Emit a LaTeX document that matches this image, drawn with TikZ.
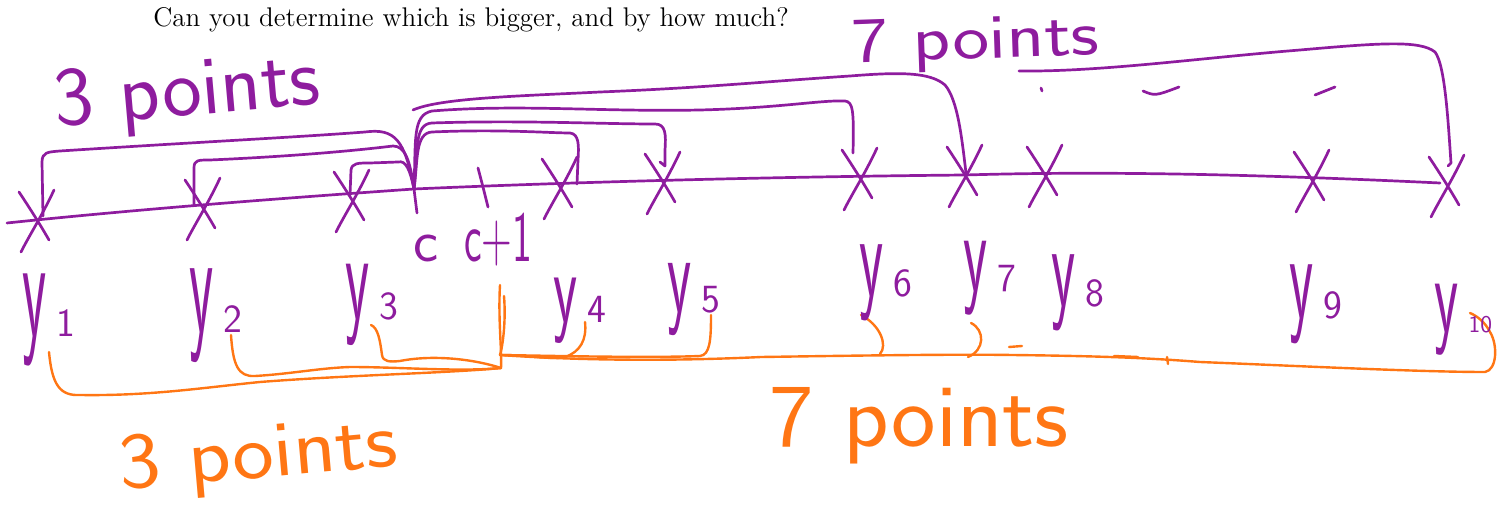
\documentclass[tikz,border=0pt]{standalone}
\usepackage{fontspec}
\definecolor{pur}{RGB}{142,28,158}
\definecolor{org}{RGB}{255,118,20}
\newcommand\ylab[3][20]{\scalebox{0.62}[#2]{\fontsize{45}{45}\selectfont y}\hspace{5pt}{\fontsize{#1}{#1}\selectfont #3}}
\newcommand\handtxt[3]{\scalebox{#2}[1]{\fontsize{#1}{#1}\selectfont #3}}
\tikzset{
  pl/.style={draw=pur, line width=1.35pt, line cap=round, line join=round},
  ol/.style={draw=org, line width=1.2pt, line cap=round, line join=round},
  hand/.style={inner sep=0pt, font=\sffamily},
  ptxt/.style={hand, text=pur},
  otxt/.style={hand, text=org},
  pics/xmark/.style={code={
    \draw[pl] (-18,-28) .. controls (-6,-10) and (4,6) .. (12,20);
    \draw[pl] (17,-30) .. controls (6,-6) and (-8,16) .. (-16,32);}}
}
\begin{document}
\begin{tikzpicture}[x=0.5pt,y=-0.5pt]
\useasboundingbox (0,0) rectangle (1505,523);
% question
\node[anchor=base west, inner sep=0pt, font=\fontsize{13.5}{15}\selectfont] (q) at (153,27)
  {Can you determine which is bigger, and by how much?};
% named points
\coordinate (L) at (7,223);
\coordinate (R) at (1440,183);
\coordinate (cT) at (414,189);
\coordinate (c1T) at (483,187);
\coordinate (x1) at (37,220);
\coordinate (x2) at (203,208);
\coordinate (x3) at (352,200);
\coordinate (x4) at (560,187);
\coordinate (x5) at (663,182);
\coordinate (x6) at (860,178);
\coordinate (x7) at (965,175);
\coordinate (x8) at (1045,175);
\coordinate (x9) at (1312,180);
\coordinate (x10) at (1447,185);
\coordinate (a1) at (43,216);
\coordinate (a2) at (194,205);
\coordinate (a3) at (350,195);
\coordinate (a4) at (577,184);
\coordinate (a5) at (665,166);
\coordinate (a6) at (853,153);
\coordinate (a7) at (966,173);
\coordinate (a10) at (1451,163);
\coordinate (r7s) at (413,110);
\coordinate (u) at (1019,71);
% number line
\draw[pl] (L) .. controls (150,208) and (300,197) .. (cT)
  .. controls (550,183) and (750,177) .. (x7)
  .. controls (1100,171) and (1250,174) .. (R);
% x marks
\foreach \i in {1,...,10} \pic at (x\i) {xmark};
% ticks c, c+1
\draw[pl] (cT) -- ++(3,24);
\draw[pl] (478,168) -- (c1T) -- (488,207);
% purple brackets left
\draw[pl] (a1) -- (42,162) .. controls (42,152) and (48,152) .. (60,151)
  .. controls (200,142) and (300,137) .. (365,132)
  .. controls (395,128) and (405,140) .. (cT);
\draw[pl] (a2) -- (194,168) .. controls (194,160) and (198,160) .. (210,160)
  .. controls (300,156) and (360,150) .. (393,146)
  .. controls (405,146) and (410,160) .. (cT);
\draw[pl] (a3) -- (351,170) .. controls (352,163) and (358,163) .. (370,163)
  -- (398,162) .. controls (406,160) and (410,170) .. (cT);
% purple brackets right
\draw[pl] (cT) .. controls (418,160) and (415,133) .. (432,132)
  .. controls (500,129) and (550,133) .. (570,133)
  .. controls (579,134) and (579,145) .. (578,160) -- (a4);
\draw[pl] (cT) .. controls (418,150) and (414,124) .. (432,123)
  .. controls (520,120) and (600,124) .. (655,124)
  .. controls (666,124) and (666,135) .. (665,150) -- (a5) -- ++(-5,-4);
\draw[pl] (cT) .. controls (416,140) and (412,115) .. (432,111)
  .. controls (520,104) and (600,112) .. (700,110)
  .. controls (780,108) and (820,100) .. (845,101)
  .. controls (853,102) and (854,110) .. (a6);
\draw[pl] (r7s) .. controls (440,98) and (520,96) .. (600,92)
  .. controls (700,88) and (760,82) .. (850,76)
  .. controls (900,72) and (930,72) .. (945,85)
  .. controls (958,100) and (962,140) .. (a7);
\draw[pl] (u) .. controls (1100,72) and (1200,58) .. (1300,50)
  .. controls (1380,43) and (1420,40) .. (1435,52)
  .. controls (1445,65) and (1448,120) .. (a10) -- ++(-3,3);
% small purple dashes
\draw[pl] (1041,88) -- (1042,91);
\draw[pl] (1143,91) .. controls (1155,96) .. (1179,87);
\draw[pl] (1315,95) -- (1335,87);
% orange junction
\coordinate (j) at (500,355);
\coordinate (j2) at (501,368);
\coordinate (b1) at (49,352);
\coordinate (b2) at (231,335);
\coordinate (b3) at (371,325);
\coordinate (b4) at (585,322);
\coordinate (b5) at (711,315);
\coordinate (b6) at (861,315);
\coordinate (b7) at (971,323);
\coordinate (b10) at (1470,313);
\draw[ol] (500,285) .. controls (498,320) and (502,350) .. (j2);
\draw[ol] (504,296) .. controls (506,320) and (503,345) .. (j);
\draw[ol] (b1) .. controls (52,385) and (60,396) .. (80,395)
  .. controls (150,396) and (200,388) .. (260,382)
  .. controls (350,375) and (450,373) .. (j2);
\draw[ol] (b2) .. controls (233,365) and (238,377) .. (255,376)
  .. controls (290,374) and (320,368) .. (350,367)
  .. controls (400,367) and (460,372) .. (j2);
\draw[ol] (b3) .. controls (378,328) and (380,340) .. (382,355)
  .. controls (383,362) and (390,362) .. (400,361)
  .. controls (430,355) and (470,358) .. (j2);
\draw[ol] (j) .. controls (530,355) and (550,360) .. (565,357)
  .. controls (580,352) and (587,340) .. (b4);
\draw[ol] (j) .. controls (560,356) and (650,358) .. (700,356)
  .. controls (710,355) and (711,340) .. (b5);
\draw[ol] (j) .. controls (600,362) and (700,360) .. (761,357)
  .. controls (830,356) and (950,354) .. (1012,355)
  .. controls (1100,356) and (1150,358) .. (1200,362)
  .. controls (1300,366) and (1420,372) .. (1485,372)
  .. controls (1497,370) and (1498,345) .. (1490,332)
  .. controls (1485,322) and (1477,316) .. (b10);
\draw[ol] (b6) .. controls (880,325) and (888,345) .. (880,354);
\draw[ol] (b7) .. controls (985,330) and (985,350) .. (968,357);
\draw[ol] (1009,347) -- (1022,346);
\draw[ol] (1114,356) -- (1138,357);
\draw[ol] (1167,357) -- (1168,364);
% handwritten texts
\node[ptxt, anchor=base west, rotate=5] (p3) at (56,127) {\handtxt{42}{1}{3 points}};
\node[ptxt, anchor=base west, rotate=2] (p7) at (852,63) {\handtxt{32}{1.22}{7 points}};
\node[otxt, anchor=base west, rotate=5] (o3) at (121,490) {\handtxt{40}{1.1}{3 points}};
\node[otxt, anchor=base west] (o7) at (769,447) {\handtxt{45}{1.05}{7 points}};
\node[ptxt, anchor=base west] (cl) at (413,262) {\fontsize{30}{30}\selectfont c};
\node[ptxt, anchor=base west] (c1l) at (464,262) {\scalebox{0.7}[1.2]{\fontsize{30}{30}\selectfont c+1}};
% y labels
\node[ptxt, anchor=base west] (y1) at (22,337) {\ylab{1.62}{1}};
\node[ptxt, anchor=base west] (y2) at (189,333) {\ylab{1.65}{2}};
\node[ptxt, anchor=base west] (y3) at (345,320) {\ylab{1.43}{3}};
\node[ptxt, anchor=base west] (y4) at (553,323) {\ylab{1.15}{4}};
\node[ptxt, anchor=base west] (y5) at (667,313) {\ylab{1.27}{5}};
\node[ptxt, anchor=base west] (y6) at (859,297) {\ylab{1.34}{6}};
\node[ptxt, anchor=base west] (y7) at (963,292) {\ylab{1.3}{7}};
\node[ptxt, anchor=base west] (y8) at (1051,307) {\ylab{1.34}{8}};
\node[ptxt, anchor=base west] (y9) at (1289,319) {\ylab{1.39}{9}};
\node[ptxt, anchor=base west] (y10) at (1434,333) {\ylab[12]{1.25}{10}};
\end{tikzpicture}
\end{document}
